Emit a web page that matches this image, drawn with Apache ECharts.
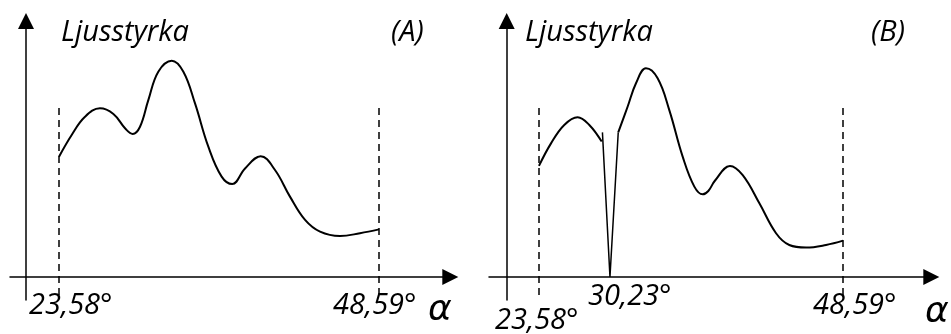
<!DOCTYPE html>
<html>
<head>
<meta charset="utf-8">
<title>Ljusstyrka</title>
<script src="https://cdn.jsdelivr.net/npm/echarts@6/dist/echarts.min.js"></script>
<style>
  html, body { margin: 0; padding: 0; background: #fff; }
  #chart { width: 951px; height: 334px; }
</style>
</head>
<body>
<div id="chart"></div>
<script>
// ==================== data ====================

// panel A: angle (deg) / brightness (arbitrary units)
const anglesA = [23.58, 24.57, 25.61, 26.78, 27.83, 28.74, 29.34, 29.91, 30.56, 31.34,
  32.39, 33.30, 34.21, 35.25, 36.29, 37.12, 38.12, 39.34, 40.46, 41.63,
  42.81, 43.98, 45.54, 47.10, 48.59]
const valuesA = [47.0, 55.5, 62.6, 65.9, 63.7, 58.1, 55.9, 58.7, 69.1, 80.2,
  84.5, 80.2, 67.8, 50.9, 39.2, 36.3, 42.4, 47.2, 41.8, 31.4,
  22.3, 17.7, 16.0, 17.1, 18.6]

// panel B: left part, narrow dip, right part
const anglesB1 = [23.58, 24.57, 25.66, 26.76, 27.72, 28.74]
const valuesB1 = [43.4, 52.2, 59.4, 62.4, 59.4, 52.9]

const anglesDip = [28.80, 29.42, 30.10]
const valuesDip = [56.5, 0, 56.5]

const anglesB2 = [30.10, 30.87, 31.56, 32.38, 33.34, 34.30, 35.40, 36.36, 37.05, 37.51, 38.05,
  39.29, 40.34, 41.71, 43.08, 44.17, 45.55, 47.19, 48.59]
const valuesB2 = [56.5, 66.5, 75.7, 81.5, 77.6, 65.2, 47.0, 35.3, 32.3, 33.6, 37.6,
  43.4, 39.8, 28.8, 17.1, 12.5, 11.5, 12.5, 14.2]

// dashed limits
const limitAngles = [23.58, 48.59]
const limitTop = 66.0
const limitBottom = -7.8

// texts
const yTitle = 'Ljusstyrka'
const panelNames = ['(A)', '(B)']
const tickLabelsA = ['23,58°', '48,59°']
const tickLabelsB = ['23,58°', '30,23°', '48,59°']
const xTitle = 'α'

// ==================== helpers ====================

const pairs = (xs, ys) => xs.map((x, i) => [x, ys[i]])

const lineStyle = { color: '#000', width: 2 }
const smooth = 0.4

const limitLines = {
  silent: true,
  symbol: ['none', 'none'],
  label: { show: false },
  lineStyle: { color: '#000', width: 1.5, type: [7, 5] },
  data: limitAngles.map(a => [{ coord: [a, limitTop] }, { coord: [a, limitBottom] }])
}

const axisX = (idx, min, max) => ({
  type: 'value',
  gridIndex: idx,
  min,
  max,
  axisLine: {
    onZero: true,
    symbol: ['none', 'triangle'],
    symbolSize: [16, 16],
    lineStyle: { color: '#000', width: 1.5 }
  },
  axisTick: { show: false },
  axisLabel: { show: false },
  splitLine: { show: false }
})

const axisY = (idx, offset) => ({
  type: 'value',
  gridIndex: idx,
  min: -8.984,
  max: 100,
  offset,
  axisLine: {
    show: true,
    onZero: false,
    symbol: ['none', 'triangle'],
    symbolSize: [16, 16],
    lineStyle: { color: '#000', width: 1.5 }
  },
  axisTick: { show: false },
  axisLabel: { show: false },
  splitLine: { show: false }
})

const textFont = 'italic 29px "Open Sans"'
const alphaFont = 'italic 36px "DejaVu Sans"'
const label = (text, x, y, font) => ({
  type: 'text',
  x,
  y,
  style: { text, font: font || textFont, fill: '#000', textAlign: 'left', textVerticalAlign: 'middle' }
})

// ==================== chart ====================

const chart = echarts.init(document.getElementById('chart'))

chart.setOption({
  animation: false,
  grid: [
    { left: 10, right: 500.7, top: 21, bottom: 34, outerBoundsMode: 'none' },
    { left: 489, right: 19.7, top: 21, bottom: 34, outerBoundsMode: 'none' }
  ],
  xAxis: [axisX(0, 19.75, 54.16), axisX(1, 19.47, 55.85)],
  yAxis: [axisY(0, -16), axisY(1, -17.7)],
  series: [
    {
      type: 'line', xAxisIndex: 0, yAxisIndex: 0,
      data: pairs(anglesA, valuesA),
      smooth, symbol: 'none', lineStyle,
      markLine: limitLines
    },
    {
      type: 'line', xAxisIndex: 1, yAxisIndex: 1,
      data: pairs(anglesB1, valuesB1),
      smooth, symbol: 'none', lineStyle,
      markLine: limitLines
    },
    {
      type: 'line', xAxisIndex: 1, yAxisIndex: 1,
      data: pairs(anglesDip, valuesDip),
      smooth: false, symbol: 'none', lineStyle: { color: '#000', width: 1.5 }
    },
    {
      type: 'line', xAxisIndex: 1, yAxisIndex: 1,
      data: pairs(anglesB2, valuesB2),
      smooth, symbol: 'none', lineStyle
    }
  ],
  graphic: [
    label(yTitle, 61, 33),
    label(panelNames[0], 391, 33),
    label(tickLabelsA[0], 29, 306),
    label(tickLabelsA[1], 333, 306),
    label(xTitle, 428, 311, alphaFont),

    label(yTitle, 525, 33),
    label(panelNames[1], 871, 33),
    label(tickLabelsB[0], 495, 321),
    label(tickLabelsB[1], 588, 297),
    label(tickLabelsB[2], 813, 306),
    label(xTitle, 925, 313, alphaFont)
  ]
})
</script>
</body>
</html>
